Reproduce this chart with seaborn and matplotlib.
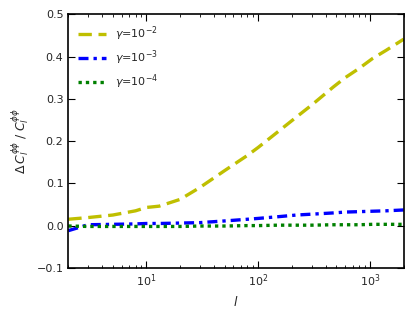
import seaborn as sns
import matplotlib
matplotlib.use('Agg')
import matplotlib.pyplot as plt
import pandas as pd

# multipole values and fractional change for each gamma
ell = [2, 3, 5, 8, 10, 11, 13, 20, 30, 50, 80, 100, 150, 220, 300, 470, 600, 800, 1050, 1400, 2000]
g2 = [0.015, 0.019, 0.025, 0.035, 0.043, 0.044, 0.046, 0.062, 0.090, 0.130, 0.166, 0.185, 0.222, 0.257, 0.285, 0.328, 0.350, 0.372, 0.395, 0.415, 0.441]
g3 = [-0.012, 0.002, 0.003, 0.004, 0.005, 0.005, 0.005, 0.006, 0.007, 0.011, 0.015, 0.017, 0.021, 0.025, 0.027, 0.030, 0.032, 0.033, 0.034, 0.035, 0.037]
g4 = [-0.001, -0.002, -0.002, -0.002, -0.002, -0.002, -0.002, -0.002, -0.001, -0.001, 0.000, 0.000, 0.001, 0.001, 0.001, 0.002, 0.002, 0.002, 0.003, 0.003, 0.003]
labels = [r'$\gamma$=$10^{-2}$', r'$\gamma$=$10^{-3}$', r'$\gamma$=$10^{-4}$']

df = pd.DataFrame({'l': ell * 3,
                   'val': g2 + g3 + g4,
                   'gamma': [labels[0]] * len(ell) + [labels[1]] * len(ell) + [labels[2]] * len(ell)})

sns.set_style('white')
plt.rcParams['font.family'] = ['DejaVu Sans']
plt.rcParams['xtick.direction'] = 'in'
plt.rcParams['ytick.direction'] = 'in'

fig, ax = plt.subplots(figsize=(4.14, 3.17), dpi=100)
palette = {labels[0]: '#bfbf00', labels[1]: '#0000ff', labels[2]: '#008000'}
dashes = {labels[0]: (4, 2), labels[1]: (3, 1.5, 1, 1.5), labels[2]: (1, 1.2)}
sns.lineplot(data=df, x='l', y='val', hue='gamma', style='gamma',
             palette=palette, dashes=dashes, linewidth=2.4, ax=ax)

ax.set_xscale('log')
ax.set_xlim(2, 2000)
ax.set_ylim(-0.1, 0.5)
ax.set_yticks([-0.1, 0.0, 0.1, 0.2, 0.3, 0.4, 0.5])
ax.set_yticklabels(['\u22120.1', '0.0', '0.1', '0.2', '0.3', '0.4', '0.5'])
ax.tick_params(axis='both', which='both', bottom=True, left=True, top=True, right=True,
               labelsize=8, color='black')
ax.tick_params(which='major', length=5, width=0.8)
ax.tick_params(which='minor', length=2.5, width=0.6)
for s in ax.spines.values():
    s.set_color('black')
    s.set_linewidth(1.2)
ax.set_xlabel(r'$l$', fontsize=9)
ax.set_ylabel(r'$\Delta\, C_l^{\phi\phi}\; /\; C_l^{\phi\phi}$', fontsize=9)
ax.legend(loc='upper left', frameon=False, fontsize=8, handlelength=2.5, title=None)

fig.subplots_adjust(left=0.165, right=0.975, top=0.955, bottom=0.155)
fig.savefig('out.png', dpi=100)
